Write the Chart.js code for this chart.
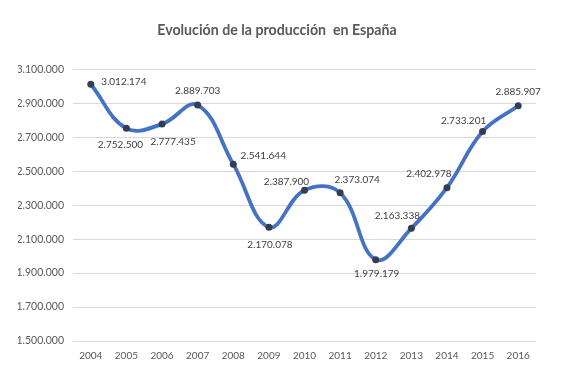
<!DOCTYPE html>
<html>
<head>
<meta charset="utf-8">
<script src="https://cdn.jsdelivr.net/npm/chart.js@4"></script>
<style>
html,body{margin:0;padding:0;background:#fff;}
canvas{display:block;}
</style>
</head>
<body>
<canvas id="c" width="572" height="382"></canvas>
<script>
const years = ['2004','2005','2006','2007','2008','2009','2010','2011','2012','2013','2014','2015','2016'];
const production = [3012174, 2752500, 2777435, 2889703, 2541644, 2170078, 2387900, 2373074, 1979179, 2163338, 2402978, 2733201, 2885907];
const yMin = 1500000;
const yMax = 3100000;
const yStep = 200000;
const chartTitle = 'Evolución de la producción  en España';

function fmt(n){
  return String(Math.round(n)).replace(/\B(?=(\d{3})+(?!\d))/g, '.');
}

const labelOffsets = [
  [33,-2],[-6,16],[11,18],[0,-14],[30,-8],[1,18],[-18,-8],[17,-13],[1,14],[-14,-13],[-18,-14],[-19,-11],[0,-14]
];

const dataLabelPlugin = {
  id: 'dataLabels',
  afterDatasetsDraw(chart){
    const ctx = chart.ctx;
    const meta = chart.getDatasetMeta(0);
    ctx.save();
    ctx.font = '10px Lato';
    ctx.fillStyle = '#404040';
    ctx.textAlign = 'center';
    ctx.textBaseline = 'middle';
    meta.data.forEach((pt, i) => {
      const off = labelOffsets[i] || [0,-14];
      ctx.fillText(fmt(chart.data.datasets[0].data[i]), pt.x + off[0], pt.y + off[1]);
    });
    ctx.restore();
  }
};

new Chart(document.getElementById('c'), {
  type: 'line',
  data: {
    labels: years,
    datasets: [{
      data: production,
      borderColor: '#4472C4',
      borderWidth: 3.8,
      tension: 0.4,
      pointRadius: 3.5,
      pointBackgroundColor: '#333F50',
      pointBorderWidth: 0,
      fill: false
    }]
  },
  options: {
    responsive: false,
    devicePixelRatio: 1,
    animation: false,
    layout: { padding: { left: 18, right: 36, top: 0, bottom: 0 } },
    plugins: {
      legend: { display: false },
      tooltip: { enabled: false },
      title: {
        display: true,
        text: chartTitle,
        color: '#595959',
        font: { family: 'Lato', size: 14.2, weight: 'bold' },
        padding: { top: 22, bottom: 30.3 }
      }
    },
    scales: {
      x: {
        offset: true,
        grid: { display: false, drawTicks: false },
        border: { display: false },
        ticks: { color: '#595959', font: { family: 'Lato', size: 10 }, padding: 9, maxRotation: 0 },
        afterFit(s){ s.height = 41; }
      },
      y: {
        min: yMin,
        max: yMax,
        grid: { color: '#D9D9D9', lineWidth: 1, drawTicks: false },
        border: { display: false },
        ticks: { stepSize: yStep, color: '#595959', font: { family: 'Lato', size: 10.5 }, padding: 9, callback: v => fmt(v) },
        afterFit(s){ s.width = 55; }
      }
    }
  },
  plugins: [dataLabelPlugin]
});
</script>
</body>
</html>
